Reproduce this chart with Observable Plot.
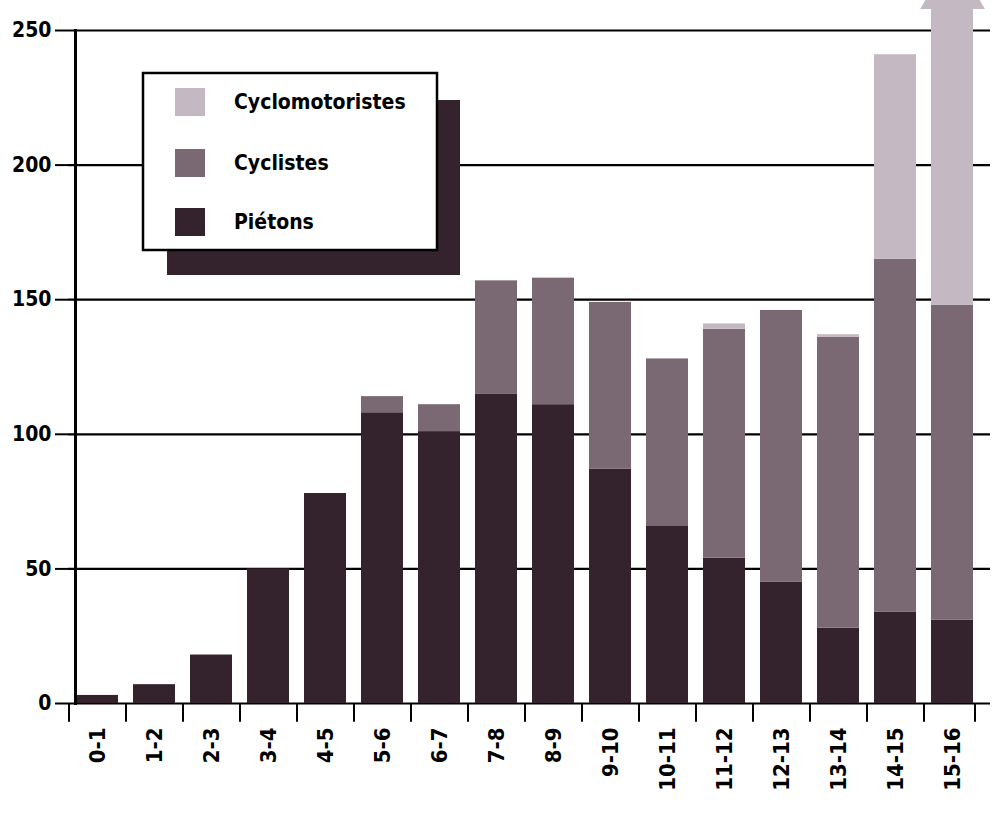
<!DOCTYPE html>
<html>
<head>
<meta charset="utf-8">
<script src="https://cdn.jsdelivr.net/npm/d3@7"></script>
<script src="https://cdn.jsdelivr.net/npm/@observablehq/plot@0.6"></script>
<style>
  html, body { margin: 0; padding: 0; background: #fff; }
  #chart svg { display: block; }
</style>
</head>
<body>
<div id="chart"></div>
<script>
const categories = ["0-1","1-2","2-3","3-4","4-5","5-6","6-7","7-8","8-9","9-10","10-11","11-12","12-13","13-14","14-15","15-16"];
const pietons         = [3, 7, 18, 50, 78, 108, 101, 115, 111, 87, 66, 54, 45, 28, 34, 31];
const cyclistes       = [0, 0, 0, 0, 0, 6, 10, 42, 47, 62, 62, 85, 101, 108, 131, 117];
const cyclomotoristes = [0, 0, 0, 0, 0, 0, 0, 0, 0, 0, 0, 2, 0, 1, 76, 110];
const seriesNames = ["Piétons", "Cyclistes", "Cyclomotoristes"];
const seriesColors = ["#34222c", "#7a6873", "#c4b9c3"];
const yTicks = [0, 50, 100, 150, 200, 250];
const overflowCategory = "15-16";

const seriesValues = [pietons, cyclistes, cyclomotoristes];
const data = [];
seriesNames.forEach((name, s) => {
  categories.forEach((c, i) => {
    if (seriesValues[s][i] > 0) data.push({age: c, type: name, value: seriesValues[s][i]});
  });
});
const oi = categories.indexOf(overflowCategory);
const overflow = [{age: overflowCategory, total: pietons[oi] + cyclistes[oi] + cyclomotoristes[oi]}];

const font = "'DejaVu Sans Condensed', 'DejaVu Sans', sans-serif";
const step = (980 - 68) / categories.length;

const chart = Plot.plot({
  width: 999,
  height: 813,
  marginTop: 30,
  marginBottom: 110,
  marginLeft: 68,
  marginRight: 9,
  style: {fontFamily: font, fontSize: "18px", background: "#fff", color: "#000"},
  x: {domain: categories, range: [68, 980], paddingInner: 0.27, paddingOuter: 0.135, label: null},
  y: {domain: [0, 250], label: null},
  color: {domain: seriesNames, range: seriesColors},
  marks: [
    Plot.ruleY(yTicks, {stroke: "#000", strokeWidth: 2.2}),
    Plot.barY(data, {x: "age", y: "value", fill: "type", order: seriesNames}),
    Plot.dot(overflow, {x: "age", y: "total", symbol: "triangle", r: 24, dy: -18.7, fill: seriesColors[2]}),
    Plot.ruleX(categories, {x: d => d, dx: -step / 2, y1: 0, y2: -7, stroke: "#000", strokeWidth: 2}),
    Plot.ruleX([categories[categories.length - 1]], {x: d => d, dx: step / 2 - 6, y1: 0, y2: -7, stroke: "#000", strokeWidth: 2}),
    Plot.frame({anchor: "left", dx: 7, stroke: "#000", strokeWidth: 3}),
    Plot.axisY({ticks: yTicks, tickSize: 13, tickPadding: 4, fontSize: 21, fontWeight: "bold", strokeWidth: 2, label: null}),
    Plot.axisX({tickSize: 0, tickRotate: -90, tickPadding: 24, fontSize: 22, fontWeight: "bold", label: null})
  ]
});

document.getElementById("chart").appendChild(chart);

// Legend drawn inside the SVG
const svg = d3.select(chart);
const lg = svg.append("g").attr("font-family", font).attr("text-anchor", "start");
lg.append("rect").attr("x", 167).attr("y", 100).attr("width", 293).attr("height", 175).attr("fill", seriesColors[0]);
lg.append("rect").attr("x", 143).attr("y", 73).attr("width", 294).attr("height", 177).attr("fill", "#fff").attr("stroke", "#000").attr("stroke-width", 2.5);
const legendOrder = [2, 1, 0];
legendOrder.forEach((s, k) => {
  const cy = [102, 163, 222][k];
  lg.append("rect").attr("x", 175).attr("y", cy - 14).attr("width", 30).attr("height", 28).attr("fill", seriesColors[s]);
  lg.append("text").attr("x", 234).attr("y", cy).attr("dy", "0.35em").attr("text-anchor", "start")
    .attr("font-size", 21).attr("font-weight", "bold").attr("fill", "#000").text(seriesNames[s]);
});
</script>
</body>
</html>
